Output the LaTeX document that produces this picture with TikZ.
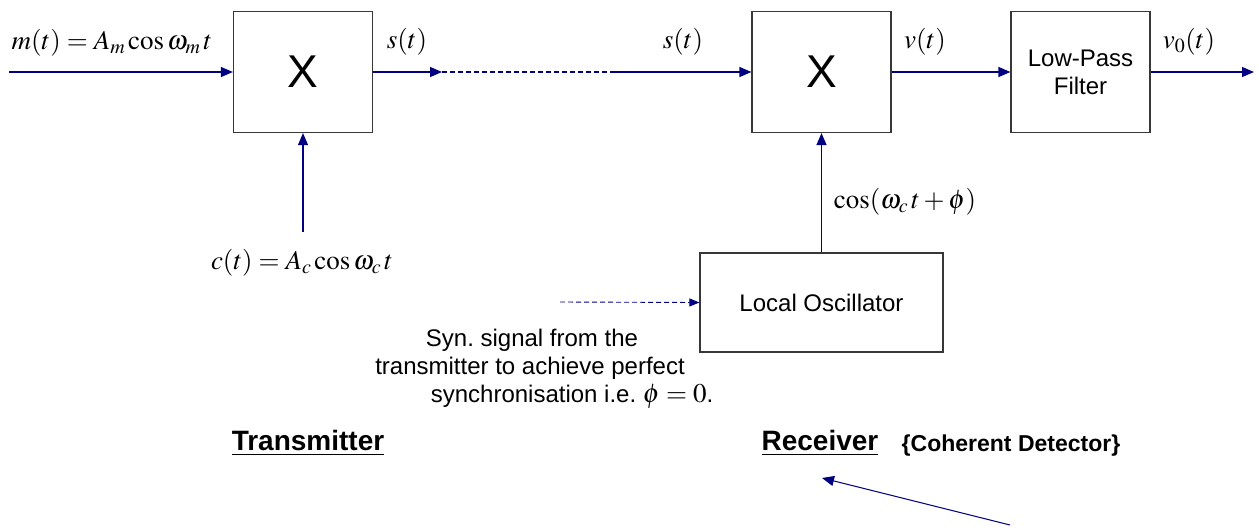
\documentclass[tikz,border=0pt]{standalone}
\usepackage{mathptmx}
\usepackage[no-math]{fontspec}
\newfontfamily\arialf{Liberation Sans}
\usetikzlibrary{arrows.meta}
\frenchspacing
\definecolor{sigblue}{RGB}{0,0,128}
\definecolor{boxgray}{RGB}{55,55,55}
\newcommand\blocktext{\arialf\fontsize{24}{28}\selectfont}
\newcommand\mulsign{\arialf\fontsize{46}{50}\selectfont}
\newcommand\mathlbl{\fontsize{27}{30}\selectfont}
\newcommand\headtext{\arialf\bfseries\fontsize{28}{32}\selectfont}
\newcommand\subhead{\arialf\bfseries\fontsize{23}{26}\selectfont}
\begin{document}
\begin{tikzpicture}[x=1pt,y=-1pt,
  blk/.style={draw=boxgray, line width=1.2pt, minimum width=139pt,
    minimum height=121pt, inner sep=0pt, align=center, font=\blocktext},
  sig/.style={draw=sigblue, line width=1.2pt,
    -{Triangle[length=12pt,width=10pt]}},
  sigdash/.style={draw=sigblue, line width=1.1pt, dash pattern=on 5pt off 3pt},
  lbl/.style={inner sep=0pt, font=\mathlbl},
  note/.style={inner sep=0pt, font=\blocktext}]
\useasboundingbox (0,0) rectangle (1259,531);

% blocks
\node[blk, font=\mulsign] (mulA) at (303,72) {X};
\node[blk, font=\mulsign] (mulB) at (821.5,72) {X};
\node[blk] (lpf) at (1080.5,72) {Low-Pass\\Filter};
\node[blk, minimum width=243pt, minimum height=99pt] (lo) at (821.5,302.5)
  {Local Oscillator};

% free ends
\coordinate (inA) at (9,72);
\coordinate (carA) at (303,232);
\coordinate (chA) at (442,72);
\coordinate (chB) at (615,72);
\coordinate (outv) at (1254,72);
\coordinate (syncin) at (560,302);
\coordinate (ptrS) at (1010,525);
\coordinate (ptrE) at (822,478);

% transmitter signals
\draw[sig] (inA) -- (mulA.west);
\draw[sig] (carA) -- (mulA.south);
\draw[sig] (mulA.east) -- (chA);
\draw[sigdash] (chA) -- (chB);
% receiver signals
\draw[sig] (chB) -- (mulB.west);
\draw[sig] (lo.north) -- (mulB.south);
\draw[sig] (mulB.east) -- (lpf.west);
\draw[sig] (lpf.east) -- (outv);
\draw[sigdash, line width=0.9pt, -{Triangle[length=10pt,width=8pt]}] (syncin) -- (lo.west);
\draw[sig, line width=1pt] (ptrS) -- (ptrE);

% signal labels
\node[lbl] (mlab) at (112,43) {$m(t) = A_m \cos \omega_m\, t$};
\node[lbl] (slabA) at (407,42) {$s(t)$};
\node[lbl] (clab) at (302,263) {$c(t) = A_c \cos \omega_c\, t$};
\node[lbl] (slabB) at (683,42) {$s(t)$};
\node[lbl] (vlab) at (925,42) {$v(t)$};
\node[lbl] (v0lab) at (1189,42) {$v_0(t)$};
\node[lbl] (loslab) at (905,202) {$\cos(\omega_c\, t + \phi)$};

% sync note
\node[note] (syn1) at (532,340) {Syn. signal from the};
\node[note] (syn2) at (530,368) {transmitter to achieve perfect};
\node[note] (syn3) at (572,396) {synchronisation i.e. {\mathlbl$\phi = 0$}.};

% headings
\node[inner sep=0pt, font=\headtext] (tx) at (308,443) {\underline{Transmitter}};
\node[inner sep=0pt, font=\headtext] (rx) at (820,443) {\underline{Receiver}};
\node[inner sep=0pt, font=\subhead] (cd) at (1011,446) {\{Coherent Detector\}};
\end{tikzpicture}
\end{document}
